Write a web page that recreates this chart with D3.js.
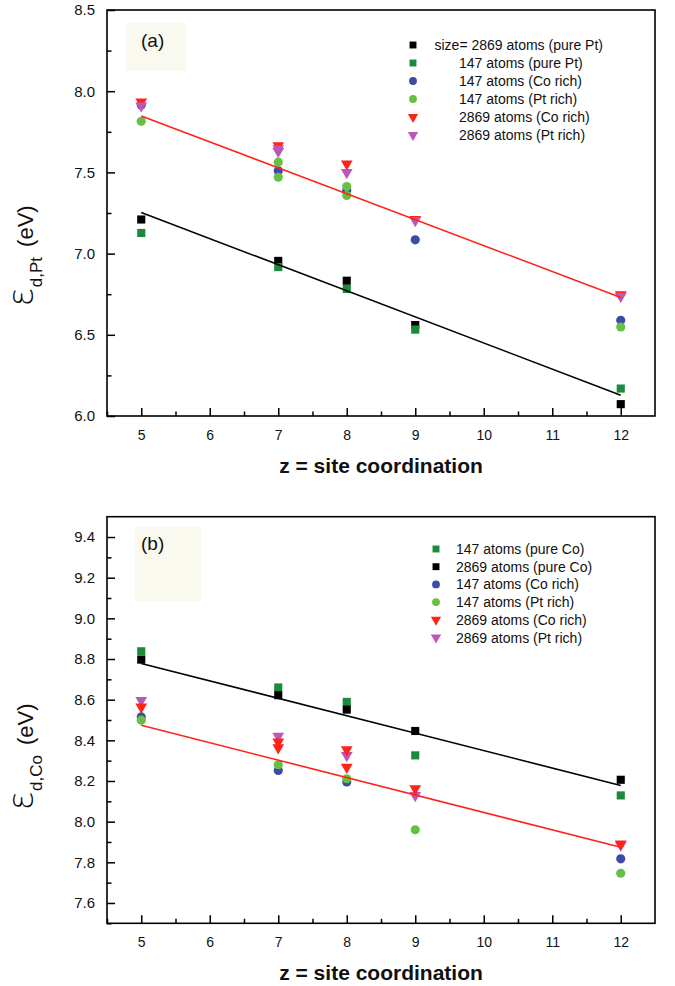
<!DOCTYPE html>
<html lang="en">
  <head>
    <meta charset="UTF-8" />
    <script src="https://d3js.org/d3.v7.min.js"></script>
    <title>d-band centre vs site coordination</title>
    <style>
      body { margin: 0; background: #fff; }
      svg text { font-family: "Liberation Sans", Arial, sans-serif; fill: #111; }
    </style>
  </head>
  <body>
    <div id="chart-container"></div>

    <script>
      // ---- data: panel (a), Pt d-band centre (eV) vs z ----
      const ptLarge = [[5, 7.21], [7, 6.955], [8, 6.833], [9, 6.56], [12, 6.073]];
      const ptSmall = [[5, 7.127], [7, 6.917], [8, 6.782], [9, 6.532], [12, 6.169]];
      const ptSmallCoRich = [[5, 7.915], [7, 7.51], [8, 7.39], [9, 7.085], [12, 6.589]];
      const ptSmallPtRich = [[5, 7.815], [7, 7.563], [7, 7.47], [8, 7.413], [8, 7.358], [12, 6.548]];
      const ptLargeCoRich = [[5, 7.934], [7, 7.665], [8, 7.553], [9, 7.21], [12, 6.747]];
      const ptLargePtRich = [[5, 7.91], [7, 7.63], [7, 7.645], [8, 7.50], [9, 7.204], [12, 6.737]];
      const ptFitPure = [[5, 7.253], [12, 6.128]];
      const ptFitAlloy = [[5, 7.848], [12, 6.73]];
      const ptLabels = [
        "size= 2869 atoms (pure Pt)",
        "147 atoms (pure Pt)",
        "147 atoms (Co rich)",
        "147 atoms (Pt rich)",
        "2869 atoms (Co rich)",
        "2869 atoms (Pt rich)",
      ];

      // ---- data: panel (b), Co d-band centre (eV) vs z ----
      const coSmall = [[5, 8.838], [7, 8.66], [8, 8.589], [9, 8.326], [12, 8.129]];
      const coLarge = [[5, 8.797], [7, 8.622], [8, 8.551], [9, 8.446], [12, 8.206]];
      const coSmallCoRich = [[5, 8.515], [7, 8.252], [8, 8.195], [12, 7.817]];
      const coSmallPtRich = [[5, 8.499], [7, 8.28], [8, 8.211], [9, 7.96], [12, 7.746]];
      const coLargeCoRich = [[5, 8.564], [7, 8.392], [7, 8.364], [8, 8.354], [8, 8.268], [9, 8.162], [12, 7.891]];
      const coLargePtRich = [[5, 8.597], [7, 8.42], [8, 8.326], [9, 8.129], [12, 7.885]];
      const coFitPure = [[5, 8.778], [12, 8.178]];
      const coFitAlloy = [[5, 8.474], [12, 7.874]];
      const coLabels = [
        "147 atoms (pure Co)",
        "2869 atoms (pure Co)",
        "147 atoms (Co rich)",
        "147 atoms (Pt rich)",
        "2869 atoms (Co rich)",
        "2869 atoms (Pt rich)",
      ];

      // ---- axis ticks ----
      const zTicks = [5, 6, 7, 8, 9, 10, 11, 12];
      const zMinor = [4.5, 5.5, 6.5, 7.5, 8.5, 9.5, 10.5, 11.5];
      const ptTicks = [6.0, 6.5, 7.0, 7.5, 8.0, 8.5];
      const ptMinor = [6.25, 6.75, 7.25, 7.75, 8.25];
      const coTicks = [7.6, 7.8, 8.0, 8.2, 8.4, 8.6, 8.8, 9.0, 9.2, 9.4];
      const coMinor = [7.5, 7.7, 7.9, 8.1, 8.3, 8.5, 8.7, 8.9, 9.1, 9.3];

      const black = "#000000";
      const dkGreen = "#1b8a3c";
      const blue = "#3a4ca6";
      const ltGreen = "#67c043";
      const red = "#ff2318";
      const purple = "#bd56b6";

      const sq = d3.symbolSquare, ci = d3.symbolCircle, tr = d3.symbolTriangle;

      const left = 107, right = 655;

      const svg = d3
        .select("#chart-container")
        .append("svg")
        .attr("width", 675)
        .attr("height", 986);

      function drawPanel(p) {
        const x = d3.scaleLinear().domain([4.5, 12.5]).range([left, right]);
        const y = d3.scaleLinear().domain(p.yDomain).range([p.bottom, p.top]);

        const g = svg.append("g");

        // faint box behind the panel letter
        g.append("rect")
          .attr("x", p.tagBox[0]).attr("y", p.tagBox[1])
          .attr("width", p.tagBox[2]).attr("height", p.tagBox[3])
          .attr("fill", "#f9f9f0");

        // frame
        g.append("rect")
          .attr("x", left).attr("y", p.top)
          .attr("width", right - left).attr("height", p.bottom - p.top)
          .attr("fill", "none").attr("stroke", black).attr("stroke-width", 1.6);

        // x axis, ticks pointing inwards
        g.append("g")
          .attr("class", "xax")
          .attr("transform", "translate(0," + p.bottom + ")")
          .call(d3.axisBottom(x).tickValues(zTicks).tickSize(-8).tickPadding(14)
            .tickFormat(d3.format("d")));
        g.append("g")
          .attr("transform", "translate(0," + p.bottom + ")")
          .call(d3.axisBottom(x).tickValues(zMinor).tickSize(-4.5).tickFormat(""));

        g.append("g")
          .attr("class", "yax")
          .attr("transform", "translate(" + left + ",0)")
          .call(d3.axisLeft(y).tickValues(p.yTicks).tickSize(-8).tickPadding(12)
            .tickFormat(d3.format(".1f")));
        g.append("g")
          .attr("transform", "translate(" + left + ",0)")
          .call(d3.axisLeft(y).tickValues(p.yMinor).tickSize(-4.5).tickFormat(""));

        g.selectAll(".domain").remove();
        g.selectAll(".tick line").attr("stroke", black).attr("stroke-width", 1.5);
        g.selectAll(".xax .tick text").style("font-size", "14px").attr("fill", "#111");
        g.selectAll(".yax .tick text").style("font-size", "15px").attr("fill", "#111");

        // markers
        p.series.forEach((s) => {
          g.append("g")
            .selectAll("path")
            .data(s.data)
            .join("path")
            .attr("d", d3.symbol().type(s.shape).size(s.shape === tr ? 60 : 66))
            .attr("transform", (d) =>
              "translate(" + x(d[0]) + "," + y(d[1]) + ")" + (s.shape === tr ? " rotate(180)" : ""))
            .attr("fill", s.color);
        });

        // linear fits
        const line = d3.line().x((d) => x(d[0])).y((d) => y(d[1]));
        p.fits.forEach((f) => {
          g.append("path")
            .datum(f.data)
            .attr("fill", "none")
            .attr("stroke", f.color)
            .attr("stroke-width", 1.6)
            .attr("d", line);
        });

        // panel letter
        g.append("text")
          .attr("x", 141).attr("y", p.tagY)
          .style("font-size", "19px")
          .text(p.tag);

        // legend
        p.legend.forEach((s, i) => {
          const ly = p.legY + i * p.legStep;
          g.append("path")
            .attr("d", d3.symbol().type(s.shape).size(s.shape === tr ? 46 : 48))
            .attr("transform", "translate(" + p.legX + "," + ly + ")" + (s.shape === tr ? " rotate(180)" : ""))
            .attr("fill", s.color);
          g.append("text")
            .attr("x", i === 0 && p.firstTextX ? p.firstTextX : p.textX)
            .attr("y", ly + 5)
            .style("font-size", "14px")
            .text(s.label);
        });

        // y axis title
        const yt = g.append("text")
          .attr("transform", "translate(33," + p.yTitleC + ") rotate(-90)")
          .attr("text-anchor", "middle");
        yt.append("tspan")
          .style("font-size", "36px")
          .style("font-family", "'DejaVu Sans', sans-serif")
          .style("font-weight", "200")
          .text("ε");
        yt.append("tspan").style("font-size", "17px").attr("dy", 9).text(p.sub);
        yt.append("tspan").style("font-size", "22px").attr("dy", -9).attr("dx", 10).text("(eV)");

        // x axis title
        g.append("text")
          .attr("x", (left + right) / 2)
          .attr("y", p.bottom + 57)
          .attr("text-anchor", "middle")
          .style("font-size", "21px")
          .style("font-weight", "bold")
          .text("z = site coordination");
      }

      const shapesA = [sq, sq, ci, ci, tr, tr];
      const colorsA = [black, dkGreen, blue, ltGreen, red, purple];
      const shapesB = [sq, sq, ci, ci, tr, tr];
      const colorsB = [dkGreen, black, blue, ltGreen, red, purple];

      drawPanel({
        top: 10, bottom: 416, yDomain: [6.0, 8.5],
        yTicks: ptTicks, yMinor: ptMinor,
        tag: "(a)", tagY: 47, tagBox: [126, 23, 60, 48],
        sub: "d,Pt", yTitleC: 256,
        legX: 413, legY: 45, legStep: 18, textX: 459, firstTextX: 434.5,
        legend: ptLabels.map((l, i) => ({ label: l, shape: shapesA[i], color: colorsA[i] })),
        series: [
          { data: ptLarge, shape: sq, color: black },
          { data: ptSmall, shape: sq, color: dkGreen },
          { data: ptSmallCoRich, shape: ci, color: blue },
          { data: ptSmallPtRich, shape: ci, color: ltGreen },
          { data: ptLargeCoRich, shape: tr, color: red },
          { data: ptLargePtRich, shape: tr, color: purple },
        ],
        fits: [
          { data: ptFitPure, color: black },
          { data: ptFitAlloy, color: red },
        ],
      });

      drawPanel({
        top: 516.7, bottom: 923.3, yDomain: [7.5, 9.5],
        yTicks: coTicks, yMinor: coMinor,
        tag: "(b)", tagY: 550, tagBox: [135, 527, 66, 74],
        sub: "d,Co", yTitleC: 757,
        legX: 436, legY: 549, legStep: 17.7, textX: 456,
        legend: coLabels.map((l, i) => ({ label: l, shape: shapesB[i], color: colorsB[i] })),
        series: [
          { data: coSmall, shape: sq, color: dkGreen },
          { data: coLarge, shape: sq, color: black },
          { data: coSmallCoRich, shape: ci, color: blue },
          { data: coSmallPtRich, shape: ci, color: ltGreen },
          { data: coLargePtRich, shape: tr, color: purple },
          { data: coLargeCoRich, shape: tr, color: red },
        ],
        fits: [
          { data: coFitPure, color: black },
          { data: coFitAlloy, color: red },
        ],
      });
    </script>
  </body>
</html>
